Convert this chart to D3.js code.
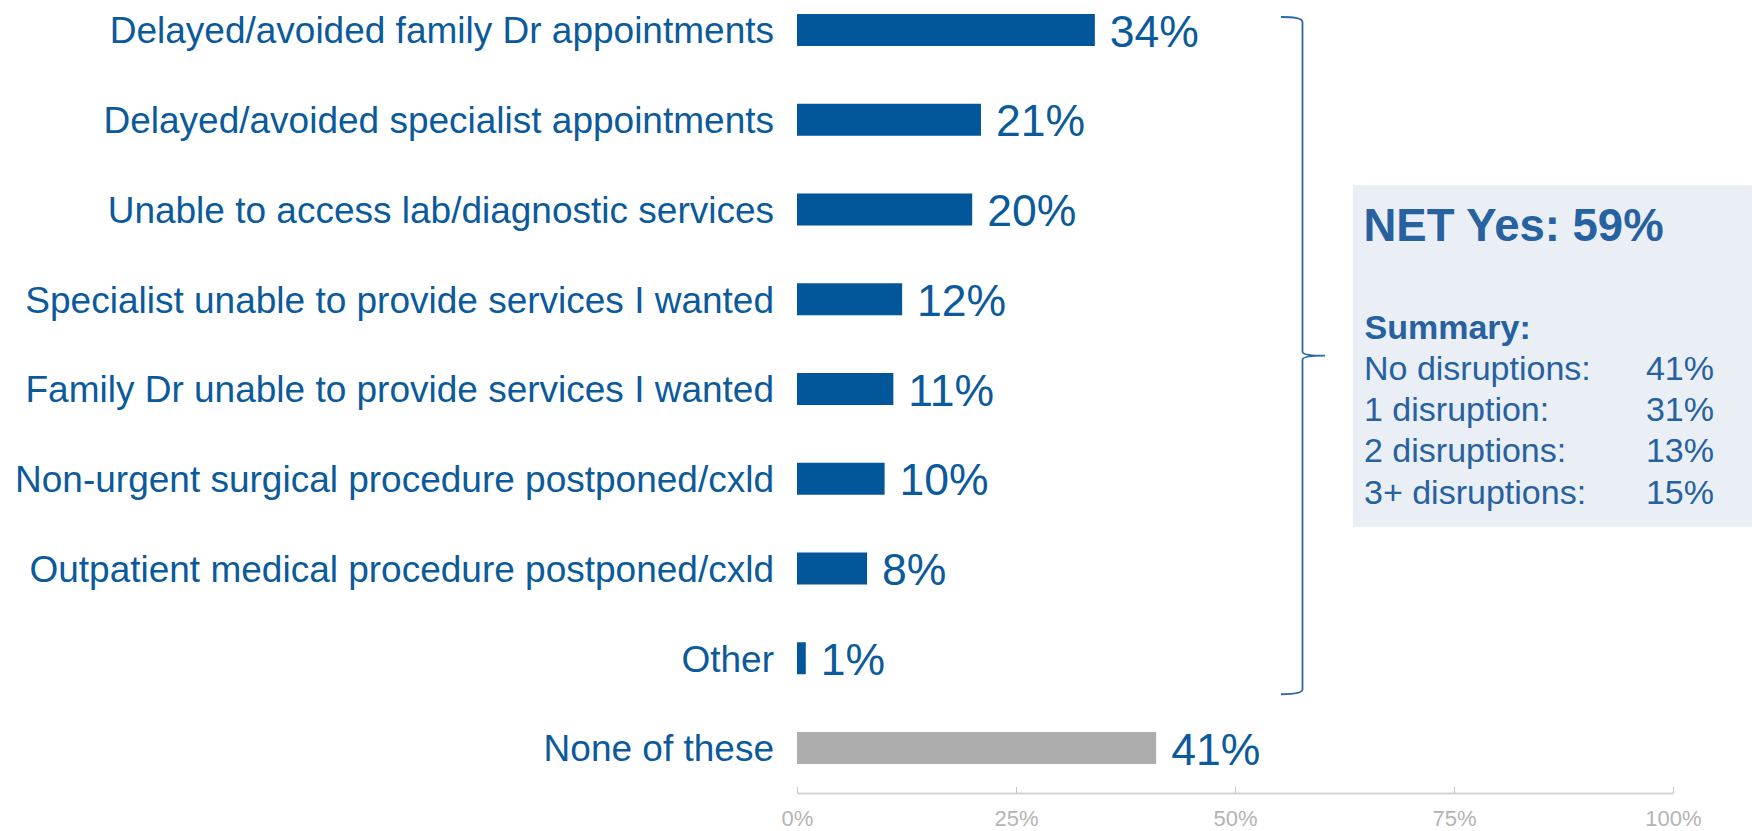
<!DOCTYPE html>
<html>
<head>
<meta charset="utf-8">
<script src="https://cdn.jsdelivr.net/npm/d3@7"></script>
<style>
    html, body {
        margin: 0;
        padding: 0;
        background: #ffffff;
    }
    svg text {
        font-family: "Liberation Sans", Arial, sans-serif;
    }
    .axis .domain {
        stroke: #d3d3d3;
        stroke-width: 2px;
    }
    .axis .tick line {
        stroke: #c4c4c4;
    }
    .axis .tick text {
        fill: #b4b4b4;
        font-size: 22px;
    }
</style>
</head>
<body>
<div id="chart"></div>
<script>
"use strict";

// disruption categories, in chart order (top to bottom)
const categories = [
    "Delayed/avoided family Dr appointments",
    "Delayed/avoided specialist appointments",
    "Unable to access lab/diagnostic services",
    "Specialist unable to provide services I wanted",
    "Family Dr unable to provide services I wanted",
    "Non-urgent surgical procedure postponed/cxld",
    "Outpatient medical procedure postponed/cxld",
    "Other",
    "None of these"
];
// percent of respondents
const values = [34, 21, 20, 12, 11, 10, 8, 1, 41];
const axisTicks = [0, 25, 50, 75, 100];

const netYes = 59;
const summaryLabels = ["No disruptions:", "1 disruption:", "2 disruptions:", "3+ disruptions:"];
const summaryValues = [41, 31, 13, 15];

const width = 1752;
const height = 831;
const blue = "#02579a";
const textBlue = "#0b5a9c";
const boxBlue = "#2761a0";
const gray = "#adadad";

function main() {
    const svg = d3.select("#chart").append("svg")
        .attr("width", width)
        .attr("height", height);

    const rows = categories.map(function (c, i) {
        return {name: c, value: values[i], none: c === "None of these"};
    });

    const xScale = d3.scaleLinear()
        .domain([0, 100])
        .range([797, 1673]);
    const yScale = d3.scalePoint()
        .domain(categories)
        .range([30, 748]);
    const barH = 32;
    const pct = function (v) {
        return v + "%";
    };

    // axis
    const xAxis = d3.axisBottom(xScale)
        .tickValues(axisTicks)
        .tickFormat(pct)
        .tickSizeInner(-6)
        .tickSizeOuter(0)
        .tickPadding(17);
    svg.append("g")
        .attr("class", "axis")
        .attr("transform", "translate(0,793)")
        .call(xAxis);

    // bars
    svg.append("g").selectAll("rect")
        .data(rows)
        .join("rect")
        .attr("x", xScale(0))
        .attr("y", function (d) {
            return yScale(d.name) - barH / 2;
        })
        .attr("width", function (d) {
            return xScale(d.value) - xScale(0);
        })
        .attr("height", barH)
        .attr("fill", function (d) {
            return d.none ? gray : blue;
        });

    // category labels
    svg.append("g").selectAll("text")
        .data(rows)
        .join("text")
        .attr("x", 774)
        .attr("y", function (d) {
            return yScale(d.name) + 13.3;
        })
        .attr("text-anchor", "end")
        .attr("font-size", 37)
        .attr("fill", textBlue)
        .text(function (d) {
            return d.name;
        });

    // value labels
    svg.append("g").selectAll("text")
        .data(rows)
        .join("text")
        .attr("x", function (d) {
            return xScale(d.value) + 15;
        })
        .attr("y", function (d) {
            return yScale(d.name) + 16.5;
        })
        .attr("font-size", 44.5)
        .attr("fill", textBlue)
        .text(function (d) {
            return pct(d.value);
        });

    // curly brace around the "yes" rows
    const top = yScale(categories[0]) - 13;
    const bottom = yScale("Other") + 36;
    const mid = (top + bottom) / 2;
    const bx = 1302.5;
    const brace = d3.path();
    brace.moveTo(1281, top);
    brace.quadraticCurveTo(bx, top, bx, top + 5);
    brace.lineTo(bx, mid - 4);
    brace.quadraticCurveTo(bx, mid, 1325, mid);
    brace.moveTo(1325, mid);
    brace.quadraticCurveTo(bx, mid, bx, mid + 4);
    brace.lineTo(bx, bottom - 5);
    brace.quadraticCurveTo(bx, bottom, 1281, bottom);
    svg.append("path")
        .attr("d", brace.toString())
        .attr("fill", "none")
        .attr("stroke", "#2a69a6")
        .attr("stroke-width", 1.8);

    // summary box
    const box = svg.append("g");
    box.append("rect")
        .attr("x", 1353)
        .attr("y", 185)
        .attr("width", width - 1353)
        .attr("height", 342)
        .attr("fill", "#eaeff6");
    box.append("text")
        .attr("x", 1363.5)
        .attr("y", 241)
        .attr("font-size", 45.5)
        .attr("font-weight", "bold")
        .attr("fill", boxBlue)
        .text("NET Yes: " + pct(netYes));
    box.append("text")
        .attr("x", 1364.5)
        .attr("y", 339)
        .attr("font-size", 34)
        .attr("font-weight", "bold")
        .attr("fill", boxBlue)
        .text("Summary:");
    const lineY = function (i) {
        return 380 + i * 41.2;
    };
    box.append("g").selectAll("text")
        .data(summaryLabels)
        .join("text")
        .attr("x", 1364)
        .attr("y", function (d, i) {
            return lineY(i);
        })
        .attr("font-size", 34)
        .attr("fill", boxBlue)
        .text(function (d) {
            return d;
        });
    box.append("g").selectAll("text")
        .data(summaryValues)
        .join("text")
        .attr("x", 1714)
        .attr("y", function (d, i) {
            return lineY(i);
        })
        .attr("text-anchor", "end")
        .attr("font-size", 34)
        .attr("fill", boxBlue)
        .text(pct);
}

main();
</script>
</body>
</html>
